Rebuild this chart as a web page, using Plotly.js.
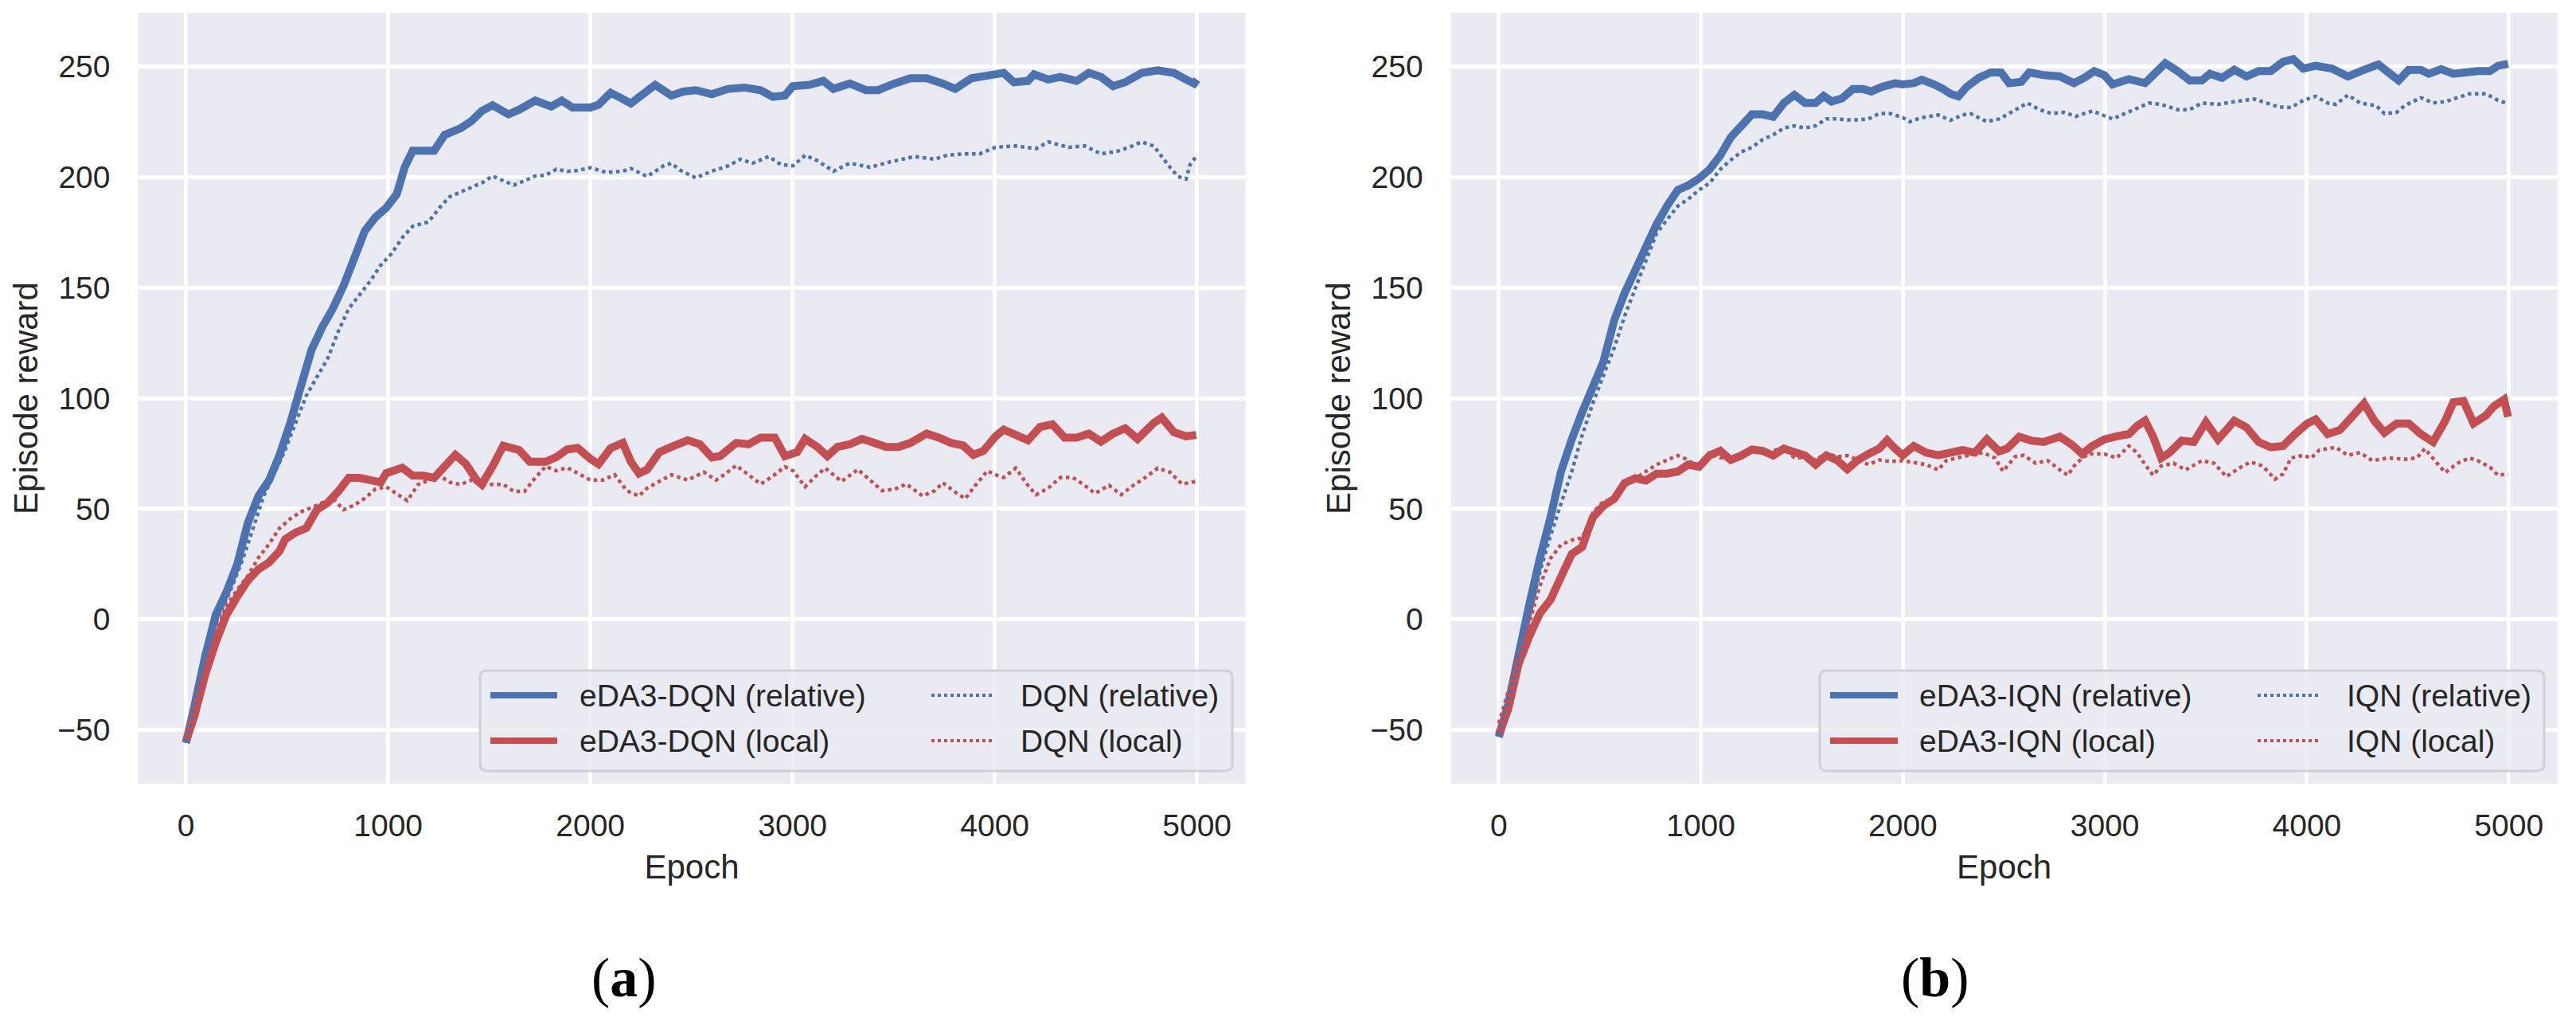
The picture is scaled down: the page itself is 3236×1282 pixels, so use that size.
<!DOCTYPE html>
<html>
<head>
<meta charset="utf-8">
<script src="https://cdn.plot.ly/plotly-3.0.1.min.js"></script>
<style>
html,body{margin:0;padding:0;background:#ffffff;}
#chart{width:3236px;height:1282px;}
</style>
</head>
<body>
<div id="chart"></div>
<script>
// ---------------- DATA ----------------
const xTickVals = [0, 1000, 2000, 3000, 4000, 5000];
const yTickVals = [-50, 0, 50, 100, 150, 200, 250];
const panelLabels = ["(<b>a</b>)", "(<b>b</b>)"];
const legendLabelsA = ["eDA3-DQN (relative)", "eDA3-DQN (local)", "DQN (relative)", "DQN (local)"];
const legendLabelsB = ["eDA3-IQN (relative)", "eDA3-IQN (local)", "IQN (relative)", "IQN (local)"];

// (a) eDA3-DQN (relative)
const aEdaRelEpoch = [0,42,95,147,200,253,305,358,411,463,516,568,621,674,726,779,832,884,937,990,1042,1082,1121,1227,1279,1358,1411,1463,1516,1595,1648,1727,1806,1858,1911,2000,2040,2100,2140,2200,2260,2320,2400,2460,2521,2601,2681,2762,2842,2902,2962,3000,3082,3152,3202,3283,3363,3423,3503,3583,3663,3743,3804,3884,3964,4044,4094,4164,4194,4265,4325,4405,4465,4525,4585,4645,4726,4806,4886,4946,4986,5000];
const aEdaRelReward = [-55.8,-39,-16.5,2.1,12.4,24.8,43.4,55.8,63,74.4,88.9,105.4,121.9,132.2,140.5,150.8,163.2,175.6,181.8,186,192.2,204.5,211.8,211.8,219,222,225.2,229.8,232.4,228.3,230.4,234.5,231.8,234.5,231.4,231.4,232.6,238,236.2,233.2,237.4,241.6,236.8,238.6,239.2,237.4,239.8,240.4,239.2,236.2,236.8,241,241.6,243.4,239.8,242.2,239.2,239.2,242.2,244.6,244.6,242.2,239.8,244.6,245.8,247,242.8,243.4,246.4,244,245.2,243.4,247,245.2,241,242.8,247,248.2,247,244,242.2,244];

// (a) eDA3-DQN (local)
const aEdaLocEpoch = [0,42,95,147,200,253,305,358,411,463,490,542,595,647,700,753,805,858,911,963,990,1069,1121,1174,1227,1279,1332,1384,1437,1463,1516,1569,1648,1700,1779,1832,1885,1937,2000,2040,2100,2160,2200,2240,2281,2341,2401,2481,2541,2601,2641,2721,2782,2842,2912,2962,3022,3062,3122,3172,3222,3283,3343,3403,3463,3523,3583,3663,3723,3784,3844,3894,3944,4004,4044,4104,4164,4224,4285,4345,4405,4465,4525,4585,4645,4706,4786,4826,4886,4946,4996];
const aEdaLocReward = [-55,-43.4,-24.8,-10.3,2.1,10.3,17.6,22.7,25.8,31,36.2,39.3,41.3,49.6,52.7,57.9,64,64,63,62,66.1,68.6,65,65,64,69.2,74.4,70.3,63,61,69.2,78.5,76.5,71.3,71.3,73.4,76.9,77.5,72.6,70.2,77.4,79.8,71.4,66,67.8,75.6,78,81,79.2,73.2,73.8,79.8,79.2,82.2,82.2,73.8,75.6,81.6,78,73.8,78,79.2,81.6,79.8,78,78,79.8,84,82.2,79.8,78.6,74.4,76.2,82.8,85.8,83.4,81,87,88.2,82.2,82.2,84,80.4,84,86.4,81.6,88.8,91.2,84.6,82.8,83.4];

// (a) DQN (relative)
const aBaseRelEpoch = [0,95,147,226,279,332,384,437,490,542,595,647,700,753,805,858,911,963,1016,1069,1121,1200,1253,1305,1384,1463,1516,1569,1621,1674,1727,1779,1832,1885,1937,2000,2080,2160,2200,2281,2361,2401,2441,2521,2601,2681,2742,2802,2882,2942,3002,3062,3122,3202,3283,3383,3483,3603,3703,3764,3844,3924,4004,4104,4204,4265,4365,4445,4525,4605,4665,4726,4786,4826,4866,4906,4946,4966,4996];
const aBaseRelReward = [-55,-18.6,-2,14.5,26.9,41.3,55.8,66.1,76.5,88.9,101.2,109.5,117.8,130.2,140.5,146.7,152.9,160.1,165.3,172.5,177.7,179.7,186,191.1,194.2,197.3,200.4,198.3,196.3,198.3,200.4,200.8,203.5,202.5,202.9,204.2,202,202.6,203.8,200.2,205,206.2,203.2,199.6,202.6,205,208,206.2,209.2,205.6,205,209.8,207.4,202.6,206.2,204.4,206.8,209.2,208,209.8,210.4,210.4,213.4,214,212.8,215.8,213.4,214,210.4,211.6,213.4,215.8,214,209.2,204.4,200.2,199,205.6,209.2];

// (a) DQN (local)
const aBaseLocEpoch = [0,95,147,200,253,305,358,411,463,516,568,621,674,726,779,832,884,937,990,1042,1095,1148,1200,1253,1305,1358,1411,1463,1516,1569,1621,1674,1727,1779,1832,1885,1937,2000,2060,2120,2180,2240,2281,2341,2401,2481,2561,2621,2661,2721,2782,2842,2902,2962,3002,3062,3122,3162,3242,3323,3383,3443,3503,3563,3643,3703,3743,3804,3854,3904,3964,4004,4044,4104,4164,4204,4265,4325,4385,4445,4495,4565,4625,4685,4746,4806,4866,4926,4996];
const aBaseLocReward = [-53,-20.6,-6.2,6.2,13.4,19.6,27.9,34.1,41.3,45.5,48.6,50.6,52.7,54.8,49.6,51.7,54.8,58.9,60,56.8,53.7,61,63,65,62,61,63,61,61,61,57.9,57.9,64,69.2,67.2,68.6,66.1,63,63,65.4,58.2,55.8,59.4,62.4,65.4,63,66.6,63,65.4,69.6,65.4,61.2,64.8,69,67.2,60,65.4,68.4,62.4,67.8,63,58.2,58.8,61.2,55.8,58.2,61.8,57.6,54.6,60.6,67.2,65.4,64.2,68.4,60.6,56.4,59.4,64.2,64.2,60.6,57,60.6,56.4,60.6,64.2,68.4,66.6,61.2,62.4];

// (b) eDA3-IQN (relative)
const bEdaRelEpoch = [0,46,98,151,203,256,308,361,413,466,518,571,623,676,728,781,833,886,938,991,1043,1096,1148,1201,1253,1306,1358,1411,1463,1516,1568,1608,1647,1699,1752,1804,1844,1896,1962,2000,2054,2094,2155,2195,2235,2275,2315,2376,2436,2486,2526,2586,2626,2697,2777,2847,2898,2948,2998,3038,3119,3199,3259,3299,3360,3420,3480,3520,3580,3641,3701,3761,3821,3882,3932,3982,4043,4123,4203,4283,4354,4404,4454,4504,4564,4604,4665,4725,4785,4845,4906,4946,4996];
const bEdaRelReward = [-53.1,-38.6,-15.9,6.9,27.6,46.2,66.9,81.4,93.8,105.2,116.6,135.2,147.6,157.9,168.3,178.6,186.9,194.1,196.2,199.3,203.4,209.7,217.9,223.1,228.3,228.3,227.2,233.4,237,233.4,233.4,236.6,234.1,235.5,239.7,239.7,238.6,240.7,242.3,241.8,242.4,243.9,241.8,240,237.6,236.4,240.6,244.8,247.2,247.2,242.4,243,247.2,246,245.4,242.4,244.8,247.8,246,241.8,244.2,242.4,247.8,251.4,247.8,243.6,243.6,246.6,244.8,248.4,245.4,247.8,247.8,252,253.2,249,250.2,249,245.4,248.4,250.8,247.2,243.6,248.4,248.4,246.6,248.7,246.6,247.2,247.8,247.8,250.2,251.1];

// (b) eDA3-IQN (local)
const bEdaLocEpoch = [0,46,98,151,203,256,308,361,413,440,466,518,571,623,676,728,781,833,886,938,991,1043,1096,1148,1201,1253,1306,1358,1411,1463,1516,1568,1621,1673,1725,1778,1830,1883,1922,1962,2000,2054,2115,2175,2235,2295,2356,2416,2476,2516,2576,2637,2697,2777,2837,2888,2938,2998,3058,3119,3159,3199,3239,3279,3320,3380,3440,3500,3560,3601,3641,3701,3761,3821,3882,3942,4002,4043,4103,4163,4223,4283,4334,4384,4444,4504,4564,4625,4685,4725,4775,4825,4886,4926,4976,4996];
const bEdaLocReward = [-52,-40.7,-20,-7.6,2.8,8.9,19.3,29.6,32.8,40,46.2,51.4,54.5,61.7,63.8,62.8,65.9,65.9,66.9,70,69,74.1,76.2,72.1,74.1,76.8,76.2,74.1,77.2,75.6,74.1,70,74.1,72.1,67.9,72.1,74.8,77.2,81,77.2,74.2,78.4,75.4,74.2,75.4,76.6,75.4,81.4,76,77.2,82.6,80.8,80.2,82.6,79,74.8,78.4,81.4,82.8,83.8,87.4,89.8,82.6,73,75.4,80.8,80.2,89.2,81.4,85.6,89.8,86.8,80.2,77.8,78.4,83.8,88.6,90.4,83.8,85.6,91.6,97.6,89.8,84.4,88.6,88.6,83.8,80.2,89.8,98.2,98.8,88.6,92.2,96.4,99.4,91.6];

// (b) IQN (relative)
const bBaseRelEpoch = [0,98,151,203,256,308,361,413,466,518,571,623,676,728,781,833,886,938,991,1043,1096,1148,1201,1253,1306,1358,1411,1463,1516,1568,1621,1673,1725,1778,1830,1883,1936,2000,2034,2094,2175,2235,2295,2335,2416,2476,2536,2616,2677,2737,2797,2857,2938,3038,3098,3159,3219,3279,3360,3420,3480,3560,3641,3741,3801,3861,3922,3982,4043,4103,4143,4203,4264,4344,4384,4444,4484,4564,4625,4685,4745,4805,4886,4946,4986];
const bBaseRelReward = [-52,-19,0.7,21.4,37.9,52.4,66.9,83.4,97.9,110.3,122.7,137.2,149.7,162.1,174.5,180.7,186.9,190,194.1,197.2,203.4,207.6,211.3,213.4,216.9,219,222.1,223.1,222.1,223.1,226.2,226.2,225.8,225.8,226.2,228.7,228.7,226.8,225,226.8,228,225.6,228,228.6,225,226.2,229.2,233.4,230.4,228.6,229.2,227.4,229.8,226.2,228.6,231,233.4,232.8,230.4,230.4,233.4,232.8,234,235.2,233.4,231.6,231.4,234.6,236.4,233.4,232.8,237,233.4,232.2,228.6,229.2,232.2,235.8,233.4,234,235.8,237.6,237.6,234.6,233.4];

// (b) IQN (local)
const bBaseLocEpoch = [0,98,151,203,256,308,361,413,466,518,571,623,676,728,781,833,886,938,991,1043,1096,1148,1201,1253,1306,1358,1411,1463,1516,1568,1621,1673,1725,1778,1830,1883,1936,2000,2115,2175,2215,2295,2396,2456,2496,2556,2597,2657,2717,2777,2817,2857,2918,2998,3058,3119,3159,3199,3239,3279,3340,3400,3480,3541,3601,3661,3721,3781,3842,3882,3922,3982,4022,4062,4143,4203,4263,4324,4404,4484,4544,4584,4645,4685,4745,4805,4845,4906,4946,4996];
const bBaseLocReward = [-46.9,-16.9,-1.4,15.2,27.6,33.8,35.9,36.9,48.3,53.4,54.5,61.7,63.8,66.9,70,72.1,74.1,72.1,67.9,75.2,73.1,73.1,75.2,77.2,75.2,76.2,77.7,73.1,73.1,72.1,75.2,73.5,74.1,72.1,70,72.1,71.4,71.8,70,67.6,71.8,73.6,75.4,73,67,73.6,74.2,70.6,71.8,67.6,65.2,70.6,74.8,74.8,73,78.4,75.4,70,65.2,69.4,70.6,67.6,71.8,70.6,64.6,68.2,71.2,69.4,63.4,65.8,73,74.2,73,76.6,77.8,74.2,75.4,71.8,73,72.4,73,77.2,70.6,66.4,70.6,73,71.8,68.8,65.2,65.8];

// ---------------- STYLE ----------------
const W = 3236, H = 1282;
const BLUE = "#4C72B0", RED = "#C44E52";
const TEXT = "#262626";
const FONT = "Liberation Sans, Arial, Helvetica, sans-serif";
const SERIF = "Liberation Serif, Times New Roman, serif";
const px = v => v / W;
const py = v => 1 - v / H;

const thick = 10, thin = 4.5, legendThin = 4;

function tr(x, y, color, dotted, xa, ya, name) {
  return {
    type: "scatter", mode: "lines", x: x, y: y, name: name,
    xaxis: xa, yaxis: ya, showlegend: false, hoverinfo: "skip",
    line: {color: color, width: dotted ? thin : thick, dash: dotted ? "dot" : "solid", simplify: false}
  };
}

const data = [
  tr(aEdaRelEpoch, aEdaRelReward, BLUE, false, "x", "y", legendLabelsA[0]),
  tr(aEdaLocEpoch, aEdaLocReward, RED, false, "x", "y", legendLabelsA[1]),
  tr(aBaseRelEpoch, aBaseRelReward, BLUE, true, "x", "y", legendLabelsA[2]),
  tr(aBaseLocEpoch, aBaseLocReward, RED, true, "x", "y", legendLabelsA[3]),
  tr(bEdaRelEpoch, bEdaRelReward, BLUE, false, "x2", "y2", legendLabelsB[0]),
  tr(bEdaLocEpoch, bEdaLocReward, RED, false, "x2", "y2", legendLabelsB[1]),
  tr(bBaseRelEpoch, bBaseRelReward, BLUE, true, "x2", "y2", legendLabelsB[2]),
  tr(bBaseLocEpoch, bBaseLocReward, RED, true, "x2", "y2", legendLabelsB[3])
];

function xAxis(domain, anchor) {
  return {
    domain: domain, anchor: anchor, range: [-237, 5240],
    tickmode: "array", tickvals: xTickVals,
    showgrid: true, gridcolor: "#ffffff", gridwidth: 5,
    zeroline: false, showline: false, ticks: "",
    ticklabelstandoff: 26,
    tickfont: {family: FONT, size: 39, color: TEXT},
    title: {text: "Epoch", font: {family: FONT, size: 42, color: TEXT}, standoff: 16}
  };
}
function yAxis(domain, anchor) {
  return {
    domain: domain, anchor: anchor, range: [-74.2, 274.2],
    tickmode: "array", tickvals: yTickVals,
    showgrid: true, gridcolor: "#ffffff", gridwidth: 5,
    zeroline: false, showline: false, ticks: "",
    ticklabelstandoff: 34,
    tickfont: {family: FONT, size: 39, color: TEXT},
    title: {text: "Episode reward", font: {family: FONT, size: 42, color: TEXT}, standoff: 11}
  };
}

const yDom = [py(984), py(16)];

// legend (drawn as a boxed 2x2 key inside each panel)
function roundedBox(x0, y0, x1, y1, r) {
  const rx = r / W, ry = r / H;
  const L = px(x0), R = px(x1), T = py(y0), B = py(y1);
  return "M" + (L + rx) + "," + T + " L" + (R - rx) + "," + T +
    " Q" + R + "," + T + " " + R + "," + (T - ry) +
    " L" + R + "," + (B + ry) + " Q" + R + "," + B + " " + (R - rx) + "," + B +
    " L" + (L + rx) + "," + B + " Q" + L + "," + B + " " + L + "," + (B + ry) +
    " L" + L + "," + (T - ry) + " Q" + L + "," + T + " " + (L + rx) + "," + T + " Z";
}

const shapes = [];
const annotations = [];
function legendBlock(box, cols, rows, labels) {
  shapes.push({type: "path", xref: "paper", yref: "paper", path: roundedBox(box[0], box[1], box[2], box[3], 9),
    fillcolor: "rgba(234,234,242,0.85)", line: {color: "#d0d0d6", width: 3}, layer: "above"});
  const items = [
    [0, 0, BLUE, false], [0, 1, RED, false], [1, 0, BLUE, true], [1, 1, RED, true]
  ];
  items.forEach((it, i) => {
    const c = cols[it[0]], r = rows[it[1]];
    shapes.push({type: "line", xref: "paper", yref: "paper", layer: "above",
      x0: px(c[0]), x1: px(c[1]), y0: py(r), y1: py(r),
      line: {color: it[2], width: it[3] ? legendThin : 8, dash: it[3] ? "dot" : "solid"}});
    annotations.push({xref: "paper", yref: "paper", x: px(c[2]), y: py(r), xanchor: "left", yanchor: "middle",
      text: labels[i], showarrow: false, font: {family: FONT, size: 39, color: TEXT}});
  });
}
legendBlock([603, 842, 1548, 968], [[616, 700, 726], [1170, 1250, 1280]], [873, 930], legendLabelsA);
legendBlock([2286, 842, 3196, 968], [[2299, 2384, 2409], [2836, 2916, 2946]], [873, 930], legendLabelsB);

annotations.push({xref: "paper", yref: "paper", x: px(784), y: py(1227), xanchor: "center", yanchor: "middle",
  text: panelLabels[0], showarrow: false, font: {family: SERIF, size: 70, color: "#000000"}});
annotations.push({xref: "paper", yref: "paper", x: px(2431), y: py(1227), xanchor: "center", yanchor: "middle",
  text: panelLabels[1], showarrow: false, font: {family: SERIF, size: 70, color: "#000000"}});

const layout = {
  width: W, height: H,
  margin: {l: 0, r: 0, t: 0, b: 0, pad: 0},
  paper_bgcolor: "#ffffff", plot_bgcolor: "#EAEAF2",
  showlegend: false,
  font: {family: FONT, color: TEXT},
  xaxis: xAxis([px(173.5), px(1564.6)], "y"),
  yaxis: yAxis(yDom, "x"),
  xaxis2: xAxis([px(1822.7), px(3212.6)], "y2"),
  yaxis2: yAxis(yDom, "x2"),
  shapes: shapes,
  annotations: annotations
};

Plotly.newPlot("chart", data, layout, {displayModeBar: false, responsive: false});
</script>
</body>
</html>
